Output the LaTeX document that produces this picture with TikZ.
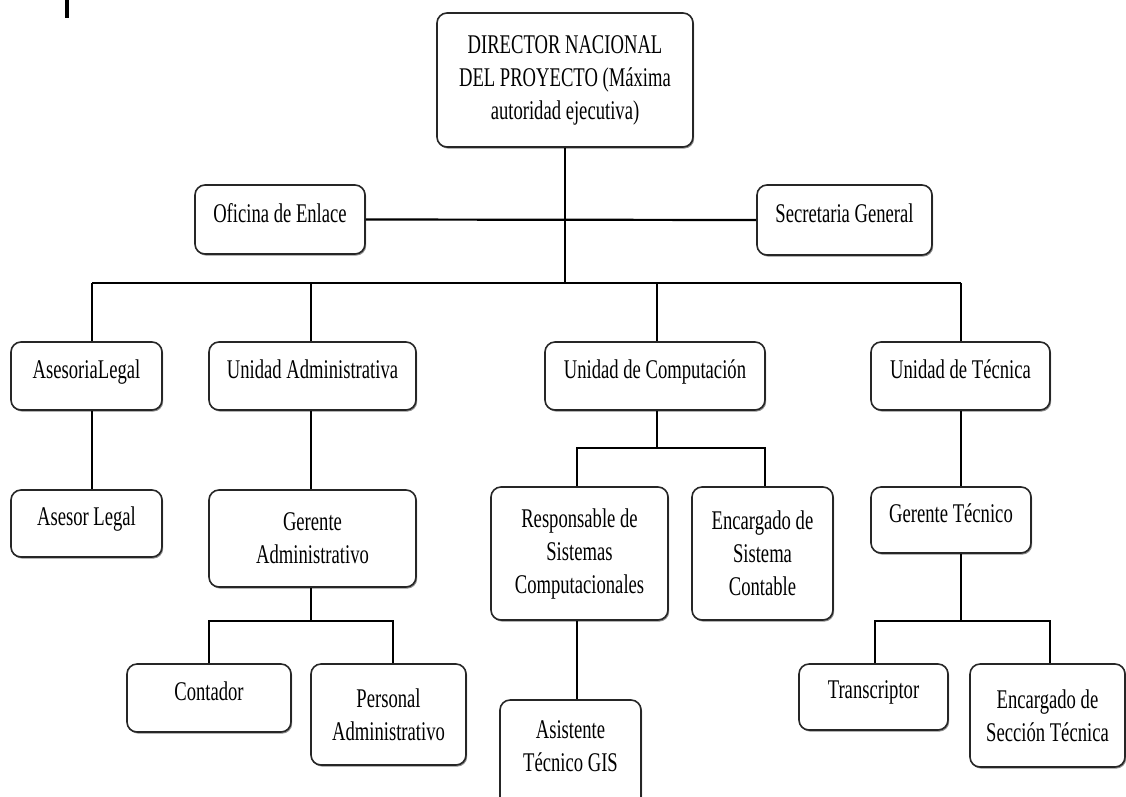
\documentclass[tikz,border=0pt]{standalone}
\usepackage{fontspec}
\setmainfont{Liberation Serif}[FakeStretch=0.69]
\usetikzlibrary{shadows}
\begin{document}
\begin{tikzpicture}[x=1pt,y=-1pt,
  orgbox/.style={draw=black!85, line width=1.6pt, rounded corners=10pt, fill=white,
    align=center, inner sep=0pt, font=\fontsize{27}{33}\selectfont,
    drop shadow={shadow xshift=1.2pt, shadow yshift=-1.6pt, fill=black!45, opacity=1}},
  oneline/.style={text depth=14pt},
  link/.style={draw=black, line width=1.6pt}]
\useasboundingbox (0,0) rectangle (1126,796);
% top-left mark
\draw[line width=3.5pt] (67,0) -- (67,18);
% boxes
\node[orgbox, minimum width=256pt, minimum height=134pt] (dir) at (565,80) {DIRECTOR NACIONAL\\DEL PROYECTO (Máxima\\autoridad ejecutiva)};
\node[orgbox, oneline, minimum width=170pt, minimum height=69pt] (ofi) at (280,219.5) {Oficina de Enlace};
\node[orgbox, oneline, minimum width=175pt, minimum height=70pt] (sec) at (844.5,220) {Secretaria General};
\node[orgbox, oneline, minimum width=151pt, minimum height=68pt] (asl) at (86.5,376) {AsesoriaLegal};
\node[orgbox, oneline, minimum width=207pt, minimum height=68pt] (uad) at (312.5,376) {Unidad Administrativa};
\node[orgbox, oneline, minimum width=220pt, minimum height=68pt] (uco) at (655,376) {Unidad de Computación};
\node[orgbox, oneline, minimum width=179pt, minimum height=68pt] (ute) at (960.5,376) {Unidad de Técnica};
\node[orgbox, oneline, minimum width=151pt, minimum height=67pt] (asr) at (86.5,523.5) {Asesor Legal};
\node[orgbox, minimum width=207pt, minimum height=97pt] (gad) at (312.5,538.5) {Gerente\\Administrativo};
\node[orgbox, minimum width=177pt, minimum height=133pt] (res) at (579.5,553.5) {Responsable de\\Sistemas\\Computacionales};
\node[orgbox, minimum width=141pt, minimum height=133pt] (enc) at (762.5,553.5) {Encargado de\\Sistema\\Contable};
\node[orgbox, oneline, minimum width=160pt, minimum height=66pt] (gte) at (951,520) {Gerente Técnico};
\node[orgbox, oneline, minimum width=164pt, minimum height=68pt] (con) at (209,698) {Contador};
\node[orgbox, minimum width=155pt, minimum height=101pt] (per) at (388.5,714.5) {Personal\\Administrativo};
\node[orgbox, minimum width=141pt, minimum height=112pt, text depth=20pt] (asi) at (570.5,756) {Asistente\\Técnico GIS};
\node[orgbox, oneline, minimum width=149pt, minimum height=66pt] (tra) at (873.5,697) {Transcriptor};
\node[orgbox, minimum width=155pt, minimum height=103pt] (ess) at (1047.5,715.5) {Encargado de\\Sección Técnica};
% bus coordinates
\coordinate (busA) at (565,283);
\coordinate (busL) at (92,283);
\coordinate (busR) at (961,283);
\coordinate (jadm) at (311,621);
\coordinate (jcom) at (657,448);
\coordinate (jtec) at (961,621);
% connectors
\draw[link] (dir.south) -- (busA);
\draw[link, line width=2.2pt] (ofi.east) -- (sec.west);
\draw[link] (busL) -- (busR);
\draw[link] (busL) -- (busL |- asl.north);
\draw[link] (311,283) -- ([xshift=-1.5pt]uad.north);
\draw[link] (657,283) -- ([xshift=2pt]uco.north);
\draw[link] (busR) -- (busR |- ute.north);
\draw[link] (asl.south -| busL) -- (asr.north -| busL);
\draw[link] ([xshift=-1.5pt]uad.south) -- ([xshift=-1.5pt]gad.north);
\draw[link] ([xshift=-1.5pt]gad.south) -- (jadm);
\draw[link] (con.north) |- (jadm) -| ([xshift=4.5pt]per.north);
\draw[link] ([xshift=2pt]uco.south) -- (jcom);
\draw[link] ([xshift=-2.5pt]res.north) |- (jcom) -| ([xshift=2.5pt]enc.north);
\draw[link] ([xshift=-2.5pt]res.south) -- ([xshift=6.5pt]asi.north);
\draw[link] (ute.south -| busR) -- (gte.north -| busR);
\draw[link] (gte.south -| jtec) -- (jtec);
\draw[link] ([xshift=1.5pt]tra.north) |- (jtec) -| ([xshift=2.5pt]ess.north);
\end{tikzpicture}
\end{document}
